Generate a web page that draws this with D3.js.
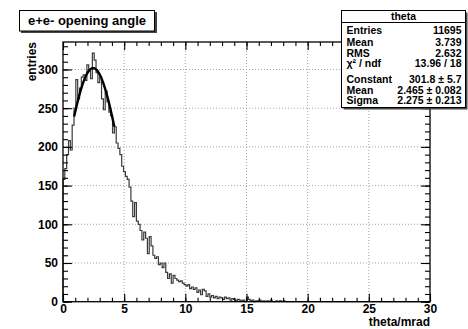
<!DOCTYPE html>
<html>
<head>
<meta charset="utf-8">
<script src="https://cdn.jsdelivr.net/npm/d3@7"></script>
<style>
  html, body { margin: 0; padding: 0; background: #fff; }
  svg { display: block; }
  text { font-family: "Liberation Sans", Arial, Helvetica, sans-serif; font-weight: bold; fill: #000; }
</style>
</head>
<body>
<svg id="chart" width="468" height="329"></svg>
<script>
// Histogram of the e+e- opening angle: 200 bins of 0.15 mrad over 0..30 mrad
const binLo = 0, binHi = 30, binWidth = 0.15;
const counts = [
  158, 172, 190, 208, 196, 228, 250, 287, 262, 276,
  290, 293, 286, 306, 298, 288, 321, 312, 296, 283,
  290, 262, 248, 272, 258, 245, 240, 218, 226, 205,
  198, 190, 175, 168, 162, 158, 148, 130, 110, 128,
  104, 100, 92, 80, 90, 82, 62, 84, 72, 60,
  56, 58, 48, 50, 44, 50, 38, 30, 36, 24,
  34, 30, 28, 26, 27, 24, 22, 20, 22, 17,
  19, 16, 18, 12, 15, 9, 16, 14, 7, 10,
  6, 8, 5, 7, 4, 6, 5, 3, 6, 4,
  5, 2, 4, 3, 1, 3, 2, 1, 2, 0,
  6, 3, 1, 2, 0, 1, 1, 2, 0, 1,
  0, 1, 0, 2, 0, 0, 1, 0, 1, 0,
  1, 0, 0, 0, 0, 0, 0, 0, 0, 0
];
while (counts.length < 200) counts.push(0);

// Gaussian fit result
const fitConstant = 301.8, fitMean = 2.465, fitSigma = 2.275;
const fitRange = [0.93, 4.18];

// Axis ticks
const xMajor = [0, 5, 10, 15, 20, 25, 30];
const xMinor = d3.range(0, 31, 1);
const yMajor = [0, 50, 100, 150, 200, 250, 300];
const yMinor = d3.range(0, 336, 10);

// Statistics box rows
const statsTitle = "theta";
const statsLabels = ["Entries", "Mean", "RMS", "\u03c7\u00b2 / ndf", "Constant", "Mean", "Sigma"];
const statsValues = ["11695", "3.739", "2.632", "13.96 / 18", "301.8 \u00b1 5.7", "2.465 \u00b1 0.082", "2.275 \u00b1 0.213"];

const svg = d3.select("#chart");
const frame = { left: 63, right: 430, top: 42, bottom: 301.7 };

const x = d3.scaleLinear().domain([binLo, binHi]).range([frame.left, frame.right]);
const y = d3.scaleLinear().domain([0, 335.5]).range([frame.bottom, frame.top]);

// dotted grid
const grid = svg.append("g").attr("stroke", "#9a9a9a").attr("stroke-width", 0.9).attr("stroke-dasharray", "1,2");
grid.selectAll("line.gx").data(xMajor.filter(d => d > 0 && d < 30)).enter().append("line")
  .attr("x1", d => x(d)).attr("x2", d => x(d)).attr("y1", frame.top).attr("y2", frame.bottom);
grid.selectAll("line.gy").data(yMajor.filter(d => d > 0)).enter().append("line")
  .attr("x1", frame.left).attr("x2", frame.right).attr("y1", d => y(d)).attr("y2", d => y(d));

// histogram drawn as a step outline
const pts = [[x(binLo), y(0)]];
counts.forEach((c, i) => {
  const x0 = x(binLo + i * binWidth), x1 = x(binLo + (i + 1) * binWidth);
  pts.push([x0, y(c)], [x1, y(c)]);
});
pts.push([x(binHi), y(0)]);
svg.append("path").attr("d", d3.line()(pts))
  .attr("fill", "none").attr("stroke", "#3a3a3a").attr("stroke-width", 1.2);

// fitted Gaussian
const gauss = t => fitConstant * Math.exp(-0.5 * Math.pow((t - fitMean) / fitSigma, 2));
const fitPts = d3.range(0, 101).map(k => {
  const t = fitRange[0] + (fitRange[1] - fitRange[0]) * k / 100;
  return [x(t), y(gauss(t))];
});
svg.append("path").attr("d", d3.line().curve(d3.curveBasis)(fitPts))
  .attr("fill", "none").attr("stroke", "#000").attr("stroke-width", 2.4).attr("stroke-linecap", "round");

// frame
svg.append("rect").attr("x", frame.left).attr("y", frame.top)
  .attr("width", frame.right - frame.left).attr("height", frame.bottom - frame.top)
  .attr("fill", "none").attr("stroke", "#000").attr("stroke-width", 1.3);

// axes: ticks point inwards, labels on bottom and left
function styleAxis(g) {
  g.select(".domain").remove();
  g.selectAll(".tick line").attr("stroke", "#000").attr("stroke-width", 1.1);
}
function styleLabels(g) {
  g.selectAll(".tick text").attr("font-size", 12).attr("font-weight", "bold")
    .attr("font-family", "Liberation Sans, Arial, sans-serif").attr("fill", "#000");
}
const bottomMajor = svg.append("g").attr("transform", `translate(0,${frame.bottom})`)
  .call(d3.axisBottom(x).tickValues(xMajor).tickSize(-8).tickPadding(3).tickFormat(d3.format("d")));
styleAxis(bottomMajor);
styleLabels(bottomMajor);
svg.append("g").attr("transform", `translate(0,${frame.bottom})`)
  .call(d3.axisBottom(x).tickValues(xMinor).tickSize(-4).tickFormat("")).call(styleAxis);
svg.append("g").attr("transform", `translate(0,${frame.top})`)
  .call(d3.axisTop(x).tickValues(xMajor).tickSize(-8).tickFormat("")).call(styleAxis);
svg.append("g").attr("transform", `translate(0,${frame.top})`)
  .call(d3.axisTop(x).tickValues(xMinor).tickSize(-4).tickFormat("")).call(styleAxis);

const leftMajor = svg.append("g").attr("transform", `translate(${frame.left},0)`)
  .call(d3.axisLeft(y).tickValues(yMajor).tickSize(-9).tickPadding(5).tickFormat(d3.format("d")));
styleAxis(leftMajor);
styleLabels(leftMajor);
svg.append("g").attr("transform", `translate(${frame.left},0)`)
  .call(d3.axisLeft(y).tickValues(yMinor).tickSize(-5).tickFormat("")).call(styleAxis);
svg.append("g").attr("transform", `translate(${frame.right},0)`)
  .call(d3.axisRight(y).tickValues(yMajor).tickSize(-9).tickFormat("")).call(styleAxis);
svg.append("g").attr("transform", `translate(${frame.right},0)`)
  .call(d3.axisRight(y).tickValues(yMinor).tickSize(-5).tickFormat("")).call(styleAxis);

// axis titles
svg.append("text").attr("x", frame.right).attr("y", 326).attr("text-anchor", "end")
  .attr("font-size", 12).text("theta/mrad");
svg.append("text").attr("transform", `translate(36,${frame.top}) rotate(-90)`)
  .attr("text-anchor", "end").attr("font-size", 12).text("entries");

// title box with shadow
svg.append("rect").attr("x", 21).attr("y", 12).attr("width", 136).attr("height", 21).attr("fill", "#444");
svg.append("rect").attr("x", 19.5).attr("y", 10.5).attr("width", 135).attr("height", 20.5)
  .attr("fill", "#fff").attr("stroke", "#000").attr("stroke-width", 1);
svg.append("text").attr("x", 87).attr("y", 25).attr("text-anchor", "middle")
  .attr("font-size", 13).text("e+e- opening angle");

// statistics box with shadow
const sb = { x: 341.5, y: 10.5, w: 124, h: 97 };
svg.append("rect").attr("x", sb.x + 2).attr("y", sb.y + 2).attr("width", sb.w).attr("height", sb.h).attr("fill", "#444");
svg.append("rect").attr("x", sb.x).attr("y", sb.y).attr("width", sb.w).attr("height", sb.h)
  .attr("fill", "#fff").attr("stroke", "#000").attr("stroke-width", 1);
svg.append("line").attr("x1", sb.x).attr("x2", sb.x + sb.w).attr("y1", 22.5).attr("y2", 22.5)
  .attr("stroke", "#000").attr("stroke-width", 1);
svg.append("text").attr("x", sb.x + sb.w / 2).attr("y", 20).attr("text-anchor", "middle")
  .attr("font-size", 10.5).text(statsTitle);
const rowY = [34, 45.5, 56.5, 67, 82.5, 93.5, 104];
statsLabels.forEach((lab, i) => {
  svg.append("text").attr("x", sb.x + 5).attr("y", rowY[i]).attr("font-size", 10.5).text(lab);
  svg.append("text").attr("x", sb.x + sb.w - 4).attr("y", rowY[i]).attr("text-anchor", "end")
    .attr("font-size", 10.5).text(statsValues[i]);
});
</script>
</body>
</html>
